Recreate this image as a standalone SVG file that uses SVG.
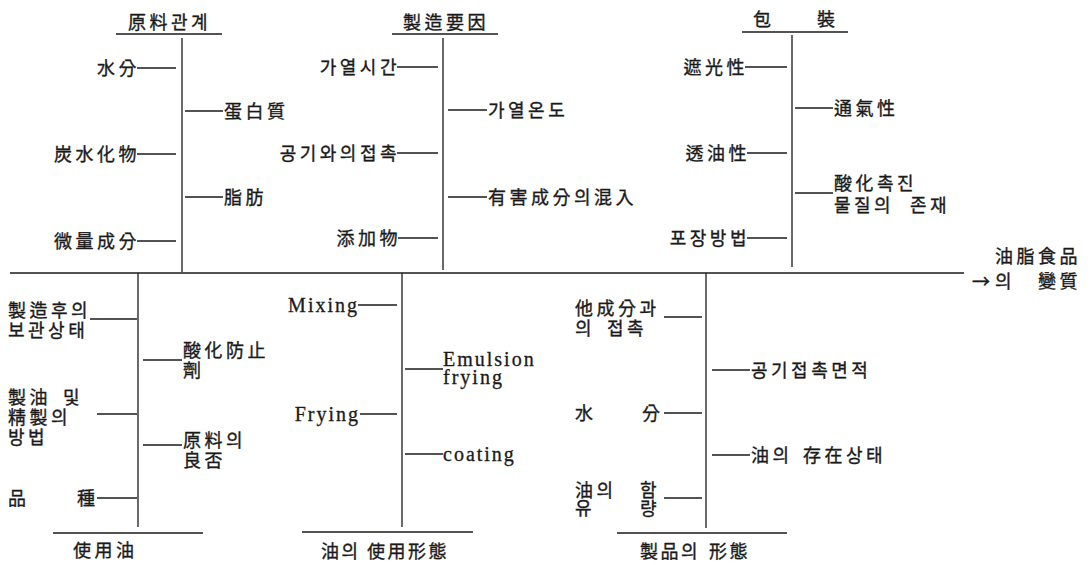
<svg xmlns="http://www.w3.org/2000/svg" width="1092" height="565" viewBox="0 0 1092 565">
<style>
.bg{fill:#ffffff}
text{font-family:"Noto Sans CJK KR","Noto Sans CJK SC",sans-serif;font-size:18px;fill:#1a1a1a;stroke:#1a1a1a;stroke-width:0.35;letter-spacing:3.5px}
.e{text-anchor:end}
.lat{font-family:"Liberation Serif",serif;font-size:20px;letter-spacing:2px;stroke-width:0.3}
.ln{stroke:#1a1a1a;stroke-width:1.3;fill:none}
.main{stroke:#1a1a1a;stroke-width:1.6;fill:none}
</style>
<rect class="bg" x="0" y="0" width="1092" height="565"/>
<g id="connectors">
  <!-- main axis -->
  <line class="main" x1="10" y1="273" x2="964" y2="273"/>
  <!-- section 1 -->
  <line class="ln" x1="116" y1="34" x2="222" y2="34"/>
  <line class="ln" x1="182" y1="38" x2="182" y2="272"/>
  <line class="ln" x1="137" y1="68" x2="176" y2="68"/>
  <line class="ln" x1="137" y1="154" x2="176" y2="154"/>
  <line class="ln" x1="137" y1="241" x2="176" y2="241"/>
  <line class="ln" x1="185" y1="111" x2="223" y2="111"/>
  <line class="ln" x1="185" y1="197" x2="223" y2="197"/>
  <!-- section 2 -->
  <line class="ln" x1="392" y1="34" x2="498" y2="34"/>
  <line class="ln" x1="443" y1="38" x2="443" y2="270"/>
  <line class="ln" x1="397" y1="67" x2="438" y2="67"/>
  <line class="ln" x1="397" y1="153" x2="438" y2="153"/>
  <line class="ln" x1="398" y1="238" x2="438" y2="238"/>
  <line class="ln" x1="448" y1="110" x2="487" y2="110"/>
  <line class="ln" x1="448" y1="197" x2="487" y2="197"/>
  <!-- section 3 -->
  <line class="ln" x1="742" y1="32" x2="848" y2="32"/>
  <line class="ln" x1="792" y1="35" x2="792" y2="267"/>
  <line class="ln" x1="745" y1="67" x2="787" y2="67"/>
  <line class="ln" x1="747" y1="153" x2="787" y2="153"/>
  <line class="ln" x1="747" y1="238" x2="787" y2="238"/>
  <line class="ln" x1="795" y1="108" x2="833" y2="108"/>
  <line class="ln" x1="795" y1="193" x2="833" y2="193"/>
  <!-- section 4 -->
  <line class="ln" x1="138" y1="273" x2="138" y2="527"/>
  <line class="ln" x1="90" y1="319" x2="137" y2="319"/>
  <line class="ln" x1="97" y1="414" x2="137" y2="414"/>
  <line class="ln" x1="97" y1="498" x2="137" y2="498"/>
  <line class="ln" x1="143" y1="360" x2="182" y2="360"/>
  <line class="ln" x1="143" y1="445" x2="182" y2="445"/>
  <line class="ln" x1="53" y1="533" x2="203" y2="533"/>
  <!-- section 5 -->
  <line class="ln" x1="402" y1="273" x2="402" y2="527"/>
  <line class="ln" x1="358" y1="305" x2="397" y2="305"/>
  <line class="ln" x1="360" y1="414" x2="397" y2="414"/>
  <line class="ln" x1="405" y1="369" x2="443" y2="369"/>
  <line class="ln" x1="405" y1="454" x2="443" y2="454"/>
  <line class="ln" x1="302" y1="532" x2="473" y2="532"/>
  <!-- section 6 -->
  <line class="ln" x1="706" y1="273" x2="706" y2="528"/>
  <line class="ln" x1="664" y1="317" x2="702" y2="317"/>
  <line class="ln" x1="664" y1="413" x2="702" y2="413"/>
  <line class="ln" x1="664" y1="498" x2="702" y2="498"/>
  <line class="ln" x1="712" y1="370" x2="750" y2="370"/>
  <line class="ln" x1="712" y1="455" x2="750" y2="455"/>
  <line class="ln" x1="617" y1="533" x2="787" y2="533"/>
</g>

<!-- Section 1: 原料관계 -->
<g id="t-wonryo"><text x="128" y="29">原料관계</text></g>
<g id="n-sumbun"><text class="e" x="140" y="74.5">水分</text></g>
<g id="n-danbaek"><text x="224" y="117.5">蛋白質</text></g>
<g id="n-tansu"><text class="e" x="140" y="160.5">炭水化物</text></g>
<g id="n-jibang"><text x="224" y="203.5">脂肪</text></g>
<g id="n-misang"><text class="e" x="140" y="247.5">微量成分</text></g>

<!-- Section 2: 製造要因 -->
<g id="t-jejo"><text x="403" y="29">製造要因</text></g>
<g id="n-gayeolsigan"><text class="e" x="400" y="73.5">가열시간</text></g>
<g id="n-gayeolondo"><text x="488" y="116.5">가열온도</text></g>
<g id="n-gonggi"><text class="e" x="400" y="159.5">공기와의접촉</text></g>
<g id="n-yuhae"><text x="488" y="203.5">有害成分의混入</text></g>
<g id="n-chumga"><text class="e" x="401" y="244.5">添加物</text></g>

<!-- Section 3: 包裝 -->
<g id="t-pojang"><text y="26"><tspan x="753">包</tspan><tspan x="817">裝</tspan></text></g>
<g id="n-chagwang"><text class="e" x="748" y="73.5">遮光性</text></g>
<g id="n-tonggi"><text x="834" y="114.5">通氣性</text></g>
<g id="n-tuyu"><text class="e" x="750" y="159.5">透油性</text></g>
<g id="n-sanhwa"><text x="834" y="189.5">酸化촉진</text><text y="211.5"><tspan x="834">물질의</tspan><tspan x="910">존재</tspan></text></g>
<g id="n-pojangbangbeop"><text class="e" x="750" y="244.5">포장방법</text></g>

<!-- Result -->
<g id="n-result"><text x="995" y="263">油脂食品</text><text y="288"><tspan x="972">→</tspan><tspan x="995">의</tspan><tspan x="1038">變質</tspan></text></g>

<!-- Section 4: 使用油 -->
<g id="t-sayongyu"><text x="73" y="556.5">使用油</text></g>
<g id="n-bogwan"><text x="8" y="316.5">製造후의</text><text x="8" y="336.5">보관상태</text></g>
<g id="n-bangji"><text x="183" y="356.5">酸化防止</text><text x="183" y="376.5">劑</text></g>
<g id="n-jeyu"><text y="403.5"><tspan x="8">製油</tspan><tspan x="63">및</tspan></text><text x="8" y="423.5">精製의</text><text x="8" y="443.5">방법</text></g>
<g id="n-wonryoyangbu"><text x="183" y="446.5">原料의</text><text x="183" y="466.5">良否</text></g>
<g id="n-pumjong"><text y="504.5"><tspan x="8">品</tspan><tspan x="77">種</tspan></text></g>

<!-- Section 5: 油의 使用形態 -->
<g id="t-sayonghyeongtae"><text y="558" style="letter-spacing:2.5px"><tspan x="321">油의</tspan><tspan x="367">使用形態</tspan></text></g>
<g id="n-mixing"><text class="e lat" x="359" y="312">Mixing</text></g>
<g id="n-emulsion"><text class="lat" x="443" y="366">Emulsion</text><text class="lat" x="443" y="384">frying</text></g>
<g id="n-frying"><text class="e lat" x="360" y="421">Frying</text></g>
<g id="n-coating"><text class="lat" x="443" y="461">coating</text></g>

<!-- Section 6: 製品의 形態 -->
<g id="t-jepum"><text y="558" style="letter-spacing:2.5px"><tspan x="640">製品의</tspan><tspan x="709">形態</tspan></text></g>
<g id="n-taseongbun"><text x="575" y="314.5">他成分과</text><text y="334.5"><tspan x="575">의</tspan><tspan x="607">접촉</tspan></text></g>
<g id="n-gonggimyeon"><text x="751" y="376.5">공기접촉면적</text></g>
<g id="n-subun2"><text y="419.5"><tspan x="575">水</tspan><tspan x="642">分</tspan></text></g>
<g id="n-jonjae"><text y="461.5"><tspan x="751">油의</tspan><tspan x="803">存在상태</tspan></text></g>
<g id="n-hamyu"><text y="496.5"><tspan x="575">油의</tspan><tspan x="640">함</tspan></text><text y="514.5"><tspan x="575">유</tspan><tspan x="640">량</tspan></text></g>
</svg>
